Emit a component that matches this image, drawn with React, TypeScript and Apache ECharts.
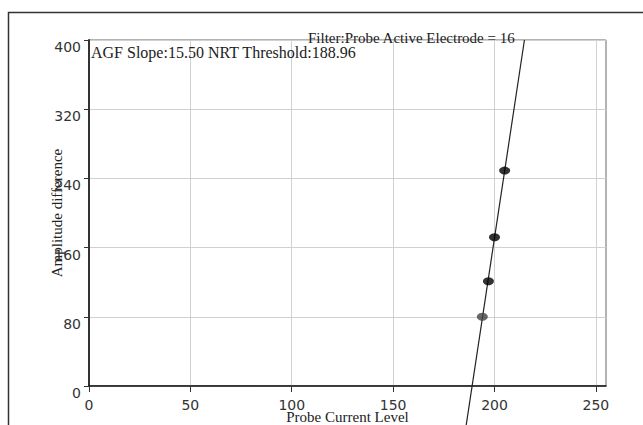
import React, { useEffect, useRef } from "react";
import * as echarts from "echarts";

const xTicks = [0, 50, 100, 150, 200, 250];
const yTicks = [0, 80, 160, 240, 320, 400];
const currentLevels = [194, 197, 200, 205];
const amplitudes = [80, 121, 172, 249];
const pointColors = ["#444444", "#000000", "#000000", "#000000"];
const agfSlope = 15.5;
const nrtThreshold = 188.96;
const fitAmplitudeRange = [-60, 400];
const titleText = "Filter:Probe Active Electrode = 16";
const annotationText = "AGF Slope:15.50 NRT Threshold:188.96";

export default function App() {
  const ref = useRef<HTMLDivElement>(null);
  useEffect(() => {
    if (!ref.current) return;
    const chart = echarts.init(ref.current, null, { renderer: "svg" });
    const fitLine = fitAmplitudeRange.map((a) => [nrtThreshold + a / agfSlope, a]);
    const pts = currentLevels.map((c, i) => ({
      value: [c, amplitudes[i]],
      itemStyle: { color: pointColors[i] },
    }));
    const labelFont = { fontFamily: "DejaVu Sans", fontSize: 14, color: "#333" };
    chart.setOption({
      animation: false,
      backgroundColor: "#ffffff",
      title: {
        text: titleText,
        left: 308,
        top: 30,
        padding: 0,
        textStyle: { fontFamily: "Liberation Serif", fontSize: 15, fontWeight: "normal", color: "#222" },
      },
      graphic: [
        {
          type: "rect",
          shape: { x: 8.5, y: 12.5, width: 700, height: 500 },
          style: { fill: "none", stroke: "#333", lineWidth: 1.5 },
          silent: true,
          z: -10,
        },
        {
          type: "text",
          x: 91,
          y: 52,
          style: {
            text: annotationText,
            fontFamily: "Liberation Serif",
            fontSize: 16,
            fill: "#222",
            verticalAlign: "middle",
          },
          z: 10,
        },
      ],
      grid: {
        left: 89,
        top: 40,
        right: 37,
        bottom: 39,
        show: true,
        borderColor: "#666",
        borderWidth: 1,
        containLabel: false,
        outerBoundsMode: "none",
      },
      xAxis: {
        type: "value",
        min: 0,
        max: 255,
        interval: 50,
        name: "Probe Current Level",
        nameLocation: "middle",
        nameGap: 23,
        nameMoveOverlap: false,
        nameTextStyle: { fontFamily: "Liberation Serif", fontSize: 15, color: "#222" },
        axisLine: { show: true, lineStyle: { color: "#111", width: 1.5 } },
        axisTick: { show: true, length: 6, customValues: xTicks, lineStyle: { color: "#333" } },
        axisLabel: { ...labelFont, margin: 12, customValues: xTicks },
        splitLine: { show: true, lineStyle: { color: "#d0d0d0", width: 1 } },
      },
      yAxis: {
        type: "value",
        min: 0,
        max: 400,
        interval: 80,
        name: "Amplitude difference",
        nameLocation: "middle",
        nameGap: 25,
        nameMoveOverlap: false,
        nameTextStyle: { fontFamily: "Liberation Serif", fontSize: 15, color: "#222" },
        axisLine: { show: true, lineStyle: { color: "#333", width: 2 } },
        axisTick: { show: true, length: 5, lineStyle: { color: "#333" } },
        axisLabel: { ...labelFont, margin: 8, verticalAlign: "top", customValues: yTicks },
        splitLine: { show: true, lineStyle: { color: "#d0d0d0", width: 1 } },
      },
      series: [
        {
          type: "line",
          data: fitLine,
          symbol: "none",
          clip: false,
          lineStyle: { color: "#222", width: 1.2 },
          z: 3,
        },
        {
          type: "scatter",
          data: pts,
          symbol: "circle",
          symbolSize: [11, 8],
          z: 4,
        },
      ],
    });
    return () => chart.dispose();
  }, []);
  return (
    <div
      ref={ref}
      style={{ position: "fixed", left: 0, top: 0, width: 643, height: 425, background: "#fff" }}
    />
  );
}
